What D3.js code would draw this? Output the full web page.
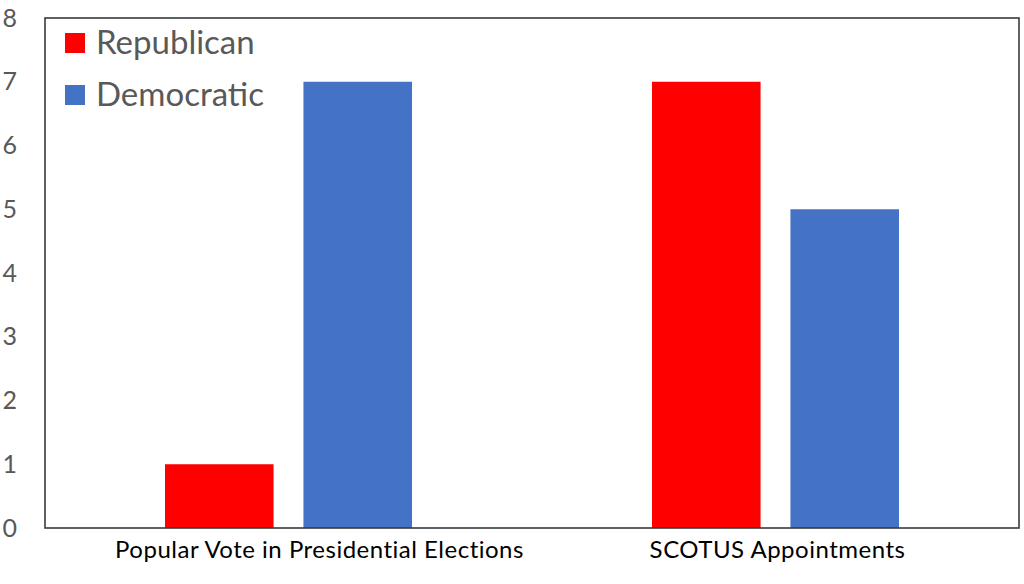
<!DOCTYPE html>
<html><head><meta charset="utf-8">
<script src="https://cdn.jsdelivr.net/npm/d3@7"></script>
<style>body{margin:0;background:#fff;} svg{display:block;}</style>
</head><body>
<svg id="c" width="1024" height="584"></svg>
<script>
const categories = ["Popular Vote in Presidential Elections", "SCOTUS Appointments"];
const seriesNames = ["Republican", "Democratic"];
const republican = [1, 7];
const democratic = [7, 5];
const yTicks = [0, 1, 2, 3, 4, 5, 6, 7, 8];
const colors = ["#ff0000", "#4472c4"];

const svg = d3.select("#c");
const m = {left: 45, top: 18, right: 1019, bottom: 528};
const font = "Lato, 'Open Sans', sans-serif";

const x0 = d3.scaleBand().domain(categories).range([m.left, m.right]).paddingInner(0).paddingOuter(0);
const bw = x0.bandwidth();
const x1 = d3.scaleBand().domain(seriesNames).range([bw * 0.2464, bw * 0.7536]).paddingInner(0.2158).paddingOuter(0);
const y = d3.scaleLinear().domain([0, 8]).range([m.bottom, m.top]);

const data = categories.map((c, i) => ({cat: c, vals: [republican[i], democratic[i]]}));

const g = svg.append("g");
g.selectAll("g.cat").data(data).join("g")
  .attr("transform", d => `translate(${x0(d.cat)},0)`)
  .selectAll("rect").data(d => d.vals.map((v, j) => ({s: seriesNames[j], v, j})))
  .join("rect")
  .attr("x", d => x1(d.s))
  .attr("width", x1.bandwidth())
  .attr("y", d => y(d.v))
  .attr("height", d => y(0) - y(d.v))
  .attr("fill", d => colors[d.j]);

// border
svg.append("rect").attr("x", m.left).attr("y", m.top)
  .attr("width", m.right - m.left).attr("height", m.bottom - m.top)
  .attr("fill", "none").attr("stroke", "#3a3a3a").attr("stroke-width", 1.6);

// y axis
const yAxis = d3.axisLeft(y).tickValues(yTicks).tickSize(0).tickPadding(0);
const ya = svg.append("g").attr("transform", `translate(17,0)`).call(yAxis);
ya.select(".domain").remove();
ya.selectAll("text").attr("fill", "#595959").style("font-family", font).style("font-size", "25px");

// x axis
const xAxis = d3.axisBottom(x0).tickSize(0).tickPadding(0);
const xa = svg.append("g").attr("transform", `translate(0,541)`).call(xAxis);
xa.select(".domain").remove();
xa.selectAll("text").attr("fill", "#000").style("font-family", font).style("font-size", "24px").style("letter-spacing", "0.5px")
  .attr("dx", (d, i) => i === 0 ? 31 : 2);

// legend
const lg = svg.append("g");
seriesNames.forEach((s, i) => {
  const ly = 33 + i * 52;
  lg.append("rect").attr("x", 65).attr("y", ly).attr("width", 20).attr("height", 20).attr("fill", colors[i]);
  lg.append("text").attr("x", 96).attr("y", ly + 21).text(s)
    .attr("fill", "#595959").style("font-family", font).style("font-size", "33px");
});
</script>
</body></html>
